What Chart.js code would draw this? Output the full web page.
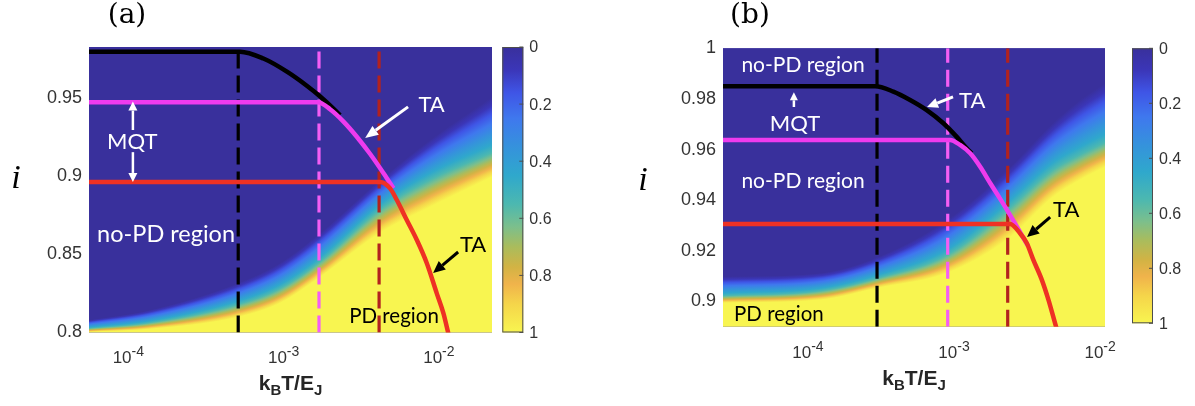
<!DOCTYPE html>
<html>
<head>
<meta charset="utf-8">
<script src="https://cdn.jsdelivr.net/npm/chart.js@4/dist/chart.umd.min.js"></script>
<style>
  html, body { margin: 0; padding: 0; background: #ffffff; }
  #wrap { position: relative; width: 1195px; height: 406px; overflow: hidden; }
  .panel { position: absolute; top: 0; height: 406px; }
</style>
</head>
<body>
<div id="wrap">
  <div class="panel" style="left:0;width:597px"><canvas id="chartA" width="597" height="406"></canvas></div>
  <div class="panel" style="left:597px;width:598px"><canvas id="chartB" width="598" height="406"></canvas></div>
</div>
<script>
// ---------- shared tick values ----------
const xTicks = [1e-4, 1e-3, 1e-2];
const xTickExp = ['-4', '-3', '-2'];
const yTicksA = [0.8, 0.85, 0.9, 0.95];
const yTicksB = [0.9, 0.92, 0.94, 0.96, 0.98, 1];
const cbTicks = [0, 0.2, 0.4, 0.6, 0.8, 1];

// ---------- panel (a): switching curves i(kBT/EJ) ----------
const blackTempA = [5.58e-5, 5.25e-4, 7.41e-4, 1.05e-3, 1.41e-3, 1.72e-3, 1.99e-3, 2.31e-3];
const blackIA    = [0.980, 0.980, 0.9756, 0.9672, 0.9582, 0.9513, 0.9456, 0.9394];
const magTempA   = [5.58e-5, 1.667e-3, 1.99e-3, 2.43e-3, 2.96e-3, 3.61e-3, 4.40e-3, 5.10e-3];
const magIA      = [0.9476, 0.9476, 0.9431, 0.9352, 0.9255, 0.9144, 0.9021, 0.8924];
const redTempA   = [5.58e-5, 4.18e-3, 4.85e-3, 5.36e-3, 6.21e-3, 7.21e-3, 8.36e-3, 9.69e-3, 1.07e-2, 1.15e-2];
const redIA      = [0.8965, 0.8965, 0.8924, 0.8849, 0.8721, 0.8593, 0.8444, 0.8251, 0.8123, 0.7995];
const crossoverA = [5.1e-4, 1.69e-3, 4.12e-3];

// PD probability map (a): i where P starts to rise, reaches 0.5, and reaches 1
const heatTempA = [5.6e-5, 1.38e-4, 5.1e-4, 9.5e-4, 1.72e-3, 4.18e-3, 8.77e-3, 2.2e-2];
const heatHiA   = [0.8080, 0.8144, 0.8317, 0.8446, 0.8638, 0.8978, 0.9234, 0.9510];
const heatMidA  = [0.8029, 0.8067, 0.8189, 0.8292, 0.8465, 0.8804, 0.8997, 0.9170];
const heatLoA   = [0.8003, 0.8022, 0.8099, 0.8189, 0.8356, 0.8638, 0.8804, 0.8997];

// ---------- panel (b) ----------
const blackTempB = [2.62e-5, 2.88e-4, 3.84e-4, 5.0e-4, 6.5e-4, 8.45e-4, 1.04e-3, 1.22e-3, 1.32e-3];
const blackIB    = [0.985, 0.985, 0.9829, 0.9796, 0.9756, 0.9704, 0.9651, 0.9605, 0.9585];
const magTempB   = [2.62e-5, 9.39e-4, 1.10e-3, 1.29e-3, 1.51e-3, 1.77e-3, 2.07e-3, 2.42e-3, 2.83e-3, 3.21e-3];
const magIB      = [0.9638, 0.9638, 0.9618, 0.9585, 0.9532, 0.9467, 0.9405, 0.9341, 0.9274, 0.9219];
const redTempB   = [2.62e-5, 2.42e-3, 2.83e-3, 3.15e-3, 3.49e-3, 3.99e-3, 4.43e-3, 4.92e-3, 5.05e-3];
const redIB      = [0.9306, 0.9306, 0.9269, 0.9230, 0.9164, 0.9085, 0.9006, 0.8913, 0.889];
const crossoverB = [2.97e-4, 9.05e-4, 2.33e-3];

const heatTempB = [2.62e-5, 1.21e-4, 3.0e-4, 8.96e-4, 2.3e-3, 4.76e-3, 7.3e-3, 1.08e-2];
const heatHiB   = [0.9098, 0.9112, 0.9175, 0.9322, 0.9519, 0.9705, 0.9796, 0.9863];
const heatMidB  = [0.9025, 0.9045, 0.9096, 0.9191, 0.9373, 0.9531, 0.9590, 0.9638];
const heatLoB   = [0.8994, 0.9006, 0.9053, 0.9112, 0.9243, 0.9412, 0.9480, 0.9531];

// colour map used for the probability (0 -> 1)
const cmap = [
  [0.00, '#39309c'], [0.08, '#3b36b8'], [0.16, '#3f55e6'], [0.25, '#3f78ee'],
  [0.35, '#3592dc'], [0.45, '#2fa8cc'], [0.55, '#4cb8b0'], [0.63, '#7cbf8c'],
  [0.70, '#aabc5c'], [0.77, '#d2b344'], [0.83, '#f0b34b'], [0.90, '#f5d54a'],
  [1.00, '#f8f550']
];

const SANS = '"Liberation Sans", Arial, sans-serif';
const LABEL = 'Lato, "Open Sans", sans-serif';

// monotone cubic in log10(x)
function smoothCurve(xs, ys) {
  const lx = xs.map(v => Math.log10(v));
  const n = lx.length, d = [], m = new Array(n);
  for (let k = 0; k < n - 1; k++) d.push((ys[k + 1] - ys[k]) / (lx[k + 1] - lx[k]));
  m[0] = d[0]; m[n - 1] = d[n - 2];
  for (let k = 1; k < n - 1; k++) m[k] = (d[k - 1] * d[k] <= 0) ? 0 : (d[k - 1] + d[k]) / 2;
  for (let k = 0; k < n - 1; k++) {
    if (d[k] === 0) { m[k] = 0; m[k + 1] = 0; continue; }
    const a = m[k] / d[k], b = m[k + 1] / d[k], s = a * a + b * b;
    if (s > 9) { const t = 3 / Math.sqrt(s); m[k] = t * a * d[k]; m[k + 1] = t * b * d[k]; }
  }
  return function (x) {
    const v = Math.log10(x);
    if (v <= lx[0]) return ys[0];
    if (v >= lx[n - 1]) return ys[n - 1];
    let k = 0;
    while (k < n - 2 && v > lx[k + 1]) k++;
    const h = lx[k + 1] - lx[k], t = (v - lx[k]) / h;
    const t2 = t * t, t3 = t2 * t;
    return (2 * t3 - 3 * t2 + 1) * ys[k] + (t3 - 2 * t2 + t) * h * m[k] +
           (-2 * t3 + 3 * t2) * ys[k + 1] + (t3 - t2) * h * m[k + 1];
  };
}

function pts(xs, ys) { return xs.map((x, k) => ({ x: x, y: ys[k] })); }

function drawArrow(ctx, x1, y1, x2, y2, color, width, headLen, headW) {
  const ang = Math.atan2(y2 - y1, x2 - x1);
  const bx = x2 - headLen * Math.cos(ang), by = y2 - headLen * Math.sin(ang);
  ctx.save();
  ctx.strokeStyle = color; ctx.fillStyle = color; ctx.lineWidth = width; ctx.lineCap = 'butt';
  ctx.beginPath(); ctx.moveTo(x1, y1); ctx.lineTo(bx, by); ctx.stroke();
  ctx.beginPath();
  ctx.moveTo(x2, y2);
  ctx.lineTo(bx + headW / 2 * Math.sin(ang), by - headW / 2 * Math.cos(ang));
  ctx.lineTo(bx - headW / 2 * Math.sin(ang), by + headW / 2 * Math.cos(ang));
  ctx.closePath(); ctx.fill();
  ctx.restore();
}

// rich text: parts = [{t, font, dy}], centred on cx
function drawRich(ctx, parts, cx, y, color) {
  ctx.save();
  ctx.fillStyle = color; ctx.textBaseline = 'alphabetic'; ctx.textAlign = 'left';
  let w = 0;
  parts.forEach(p => { ctx.font = p.font; p.w = ctx.measureText(p.t).width; w += p.w; });
  let x = cx - w / 2;
  parts.forEach(p => { ctx.font = p.font; ctx.fillText(p.t, x, y + (p.dy || 0)); x += p.w; });
  ctx.restore();
}

function makePanelPlugin(cfg) {
  const hiF = smoothCurve(cfg.heat.t, cfg.heat.hi);
  const midF = smoothCurve(cfg.heat.t, cfg.heat.mid);
  const loF = smoothCurve(cfg.heat.t, cfg.heat.lo);
  return {
    id: 'panel' + cfg.name,
    beforeDatasetsDraw(chart) {
      const { ctx, chartArea: a, scales: { x: xs, y: ys } } = chart;
      ctx.save();
      ctx.fillStyle = cmap[0][1];
      ctx.fillRect(a.left, a.top, a.right - a.left, a.bottom - a.top);
      for (let px = Math.floor(a.left); px < a.right; px++) {
        const xv = xs.getValueForPixel(px + 0.5);
        const yHi = ys.getPixelForValue(hiF(xv));
        const yMid = ys.getPixelForValue(midF(xv));
        const yLo = ys.getPixelForValue(loF(xv));
        const span = Math.max(yLo - yHi, 0.5);
        const g = ctx.createLinearGradient(0, yHi, 0, yHi + span);
        cmap.forEach(([p, c]) => {
          const yy = p <= 0.5 ? yHi + (yMid - yHi) * p / 0.5 : yMid + (yLo - yMid) * (p - 0.5) / 0.5;
          g.addColorStop(Math.min(1, Math.max(0, (yy - yHi) / span)), c);
        });
        ctx.fillStyle = g;
        const w = Math.min(1, a.right - px);
        ctx.fillRect(px, a.top, w, a.bottom - a.top);
      }
      ctx.restore();
    },
    afterDatasetsDraw(chart) {
      const { ctx, scales: { x: xs, y: ys } } = chart;
      cfg.notes.forEach(n => {
        if (n.kind === 'text') {
          ctx.save();
          ctx.font = n.size + 'px ' + LABEL;
          ctx.fillStyle = n.color; ctx.textAlign = 'center'; ctx.textBaseline = 'middle';
          ctx.fillText(n.text, xs.getPixelForValue(n.x), ys.getPixelForValue(n.y));
          ctx.restore();
        } else {
          drawArrow(ctx, xs.getPixelForValue(n.x1), ys.getPixelForValue(n.y1),
                    xs.getPixelForValue(n.x2), ys.getPixelForValue(n.y2),
                    n.color, n.width, n.head, n.headW);
        }
      });
    },
    afterDraw(chart) {
      const { ctx, chartArea: a, scales: { x: xs, y: ys } } = chart;
      ctx.save();
      // y tick labels
      ctx.font = '18px ' + SANS; ctx.fillStyle = '#333333';
      ctx.textAlign = 'right'; ctx.textBaseline = 'middle';
      cfg.yTicks.forEach(v => ctx.fillText(String(v), a.left - 7, ys.getPixelForValue(v)));
      // x tick labels 10^n
      xTicks.forEach((v, k) => {
        drawRich(ctx, [{ t: '10', font: '17px ' + SANS }, { t: xTickExp[k], font: '14px ' + SANS, dy: -7 }],
                 xs.getPixelForValue(v), a.bottom + cfg.xTickDy, '#333333');
      });
      // x axis title kB T / EJ
      drawRich(ctx, [
        { t: 'k', font: 'bold 21px ' + SANS },
        { t: 'B', font: 'bold 15px ' + SANS, dy: 5 },
        { t: 'T/E', font: 'bold 21px ' + SANS },
        { t: 'J', font: 'bold 15px ' + SANS, dy: 5 }
      ], (a.left + a.right) / 2, a.bottom + cfg.xTitleDy, '#262626');
      // y axis title
      ctx.font = 'italic 34px "Liberation Serif", serif'; ctx.fillStyle = '#000';
      ctx.textAlign = 'center'; ctx.textBaseline = 'alphabetic';
      ctx.fillText('i', a.left + cfg.iLabel[0], cfg.iLabel[1]);
      // panel tag
      ctx.font = '28px "DejaVu Serif", serif'; ctx.textBaseline = 'middle';
      ctx.fillText(cfg.tag, a.left + cfg.tagPos[0], cfg.tagPos[1]);
      // colour bar
      const cb = cfg.cbar;
      const cx0 = a.right + cb.gap, cy0 = a.top + cb.dTop, cy1 = a.bottom + cb.dBottom;
      const g = ctx.createLinearGradient(0, cy0, 0, cy1);
      cmap.forEach(([p, c]) => g.addColorStop(p, c));
      ctx.fillStyle = g; ctx.fillRect(cx0, cy0, cb.width, cy1 - cy0);
      ctx.strokeStyle = '#4d4d4d'; ctx.lineWidth = 1;
      ctx.strokeRect(cx0 + 0.5, cy0 + 0.5, cb.width - 1, cy1 - cy0 - 1);
      ctx.font = '16px ' + SANS; ctx.fillStyle = '#333333';
      ctx.textAlign = 'left'; ctx.textBaseline = 'middle';
      cbTicks.forEach(v => {
        const yy = cy0 + (cy1 - cy0) * v;
        ctx.beginPath(); ctx.moveTo(cx0 + cb.width - 4, yy); ctx.lineTo(cx0 + cb.width, yy); ctx.stroke();
        ctx.fillText(String(v), cx0 + cb.width + 6, yy + 1);
      });
      ctx.restore();
    }
  };
}

function curveSet(xs, ys, color, order) {
  return { data: pts(xs, ys), borderColor: color, borderWidth: 4.5, showLine: true,
           pointRadius: 0, cubicInterpolationMode: 'monotone', order: order, fill: false };
}
function dashSet(x, yMin, yMax, color, order) {
  return { data: [{ x: x, y: yMin }, { x: x, y: yMax }], borderColor: color, borderWidth: 3.2,
           borderDash: [17, 7], showLine: true, pointRadius: 0, order: order, fill: false };
}

function buildChart(id, cfg) {
  const datasets = [
    curveSet(cfg.red[0], cfg.red[1], '#ee3124', 1),
    curveSet(cfg.mag[0], cfg.mag[1], '#ee3bee', 2),
    curveSet(cfg.black[0], cfg.black[1], '#000000', 3),
    dashSet(cfg.cross[0], cfg.yMin, cfg.yMax, '#000000', 6),
    dashSet(cfg.cross[1], cfg.yMin, cfg.yMax, '#f45ef4', 5),
    dashSet(cfg.cross[2], cfg.yMin, cfg.yMax, '#b2221e', 4)
  ];
  return new Chart(document.getElementById(id), {
    type: 'scatter',
    data: { datasets },
    options: {
      responsive: false, animation: false, events: [],
      layout: { padding: cfg.pad },
      plugins: { legend: { display: false }, tooltip: { enabled: false } },
      scales: {
        x: { type: 'logarithmic', min: cfg.xMin, max: cfg.xMax, display: false },
        y: { type: 'linear', min: cfg.yMin, max: cfg.yMax, display: false }
      }
    },
    plugins: [makePanelPlugin(cfg)]
  });
}

buildChart('chartA', {
  name: 'A', tag: '(a)', tagPos: [38, 16], iLabel: [-73, 188],
  pad: { left: 89, right: 105, top: 47, bottom: 73.5 },
  xMin: 5.58e-5, xMax: 0.02198, yMin: 0.8, yMax: 0.983,
  yTicks: yTicksA, xTickDy: 30.5, xTitleDy: 57.5,
  black: [blackTempA, blackIA], mag: [magTempA, magIA], red: [redTempA, redIA], cross: crossoverA,
  heat: { t: heatTempA, hi: heatHiA, mid: heatMidA, lo: heatLoA },
  cbar: { gap: 10.3, width: 21, dTop: 0, dBottom: 0 },
  notes: [
    { kind: 'text', text: 'TA', x: 8.97e-3, y: 0.9462, color: '#ffffff', size: 22 },
    { kind: 'arrow', x1: 6.33e-3, y1: 0.9446, x2: 3.35e-3, y2: 0.9247, color: '#ffffff', width: 3, head: 13, headW: 11 },
    { kind: 'text', text: 'TA', x: 1.66e-2, y: 0.8561, color: '#000000', size: 22 },
    { kind: 'arrow', x1: 1.33e-2, y1: 0.8516, x2: 9.18e-3, y2: 0.8381, color: '#000000', width: 3, head: 12, headW: 11 },
    { kind: 'text', text: 'PD region', x: 5.14e-3, y: 0.8106, color: '#000000', size: 20.5 },
    { kind: 'text', text: 'MQT', x: 1.06e-4, y: 0.9221, color: '#ffffff', size: 22 },
    { kind: 'arrow', x1: 1.07e-4, y1: 0.9298, x2: 1.07e-4, y2: 0.948, color: '#ffffff', width: 2.5, head: 9, headW: 9 },
    { kind: 'arrow', x1: 1.07e-4, y1: 0.9156, x2: 1.07e-4, y2: 0.8965, color: '#ffffff', width: 2.5, head: 9, headW: 9 },
    { kind: 'text', text: 'no-PD region', x: 1.75e-4, y: 0.8631, color: '#ffffff', size: 23.5 }
  ]
});

buildChart('chartB', {
  name: 'B', tag: '(b)', tagPos: [27, 16], iLabel: [-80, 190],
  pad: { left: 126, right: 90, top: 48.3, bottom: 79.3 },
  xMin: 2.62e-5, xMax: 0.0108, yMin: 0.89, yMax: 1.0,
  yTicks: yTicksB, xTickDy: 31, xTitleDy: 58,
  black: [blackTempB, blackIB], mag: [magTempB, magIB], red: [redTempB, redIB], cross: crossoverB,
  heat: { t: heatTempB, hi: heatHiB, mid: heatMidB, lo: heatLoB },
  cbar: { gap: 27, width: 21, dTop: 0, dBottom: -3.4 },
  notes: [
    { kind: 'text', text: 'no-PD region', x: 9.25e-5, y: 0.9934, color: '#ffffff', size: 21 },
    { kind: 'arrow', x1: 8.01e-5, y1: 0.9768, x2: 8.01e-5, y2: 0.9826, color: '#ffffff', width: 2.5, head: 8, headW: 8 },
    { kind: 'text', text: 'MQT', x: 8.15e-5, y: 0.9701, color: '#ffffff', size: 22 },
    { kind: 'text', text: 'no-PD region', x: 9.25e-5, y: 0.9476, color: '#ffffff', size: 21 },
    { kind: 'text', text: 'TA', x: 1.33e-3, y: 0.9792, color: '#ffffff', size: 22 },
    { kind: 'arrow', x1: 9.84e-4, y1: 0.9808, x2: 6.53e-4, y2: 0.9768, color: '#ffffff', width: 3, head: 11, headW: 10 },
    { kind: 'text', text: 'TA', x: 5.85e-3, y: 0.9361, color: '#000000', size: 22 },
    { kind: 'arrow', x1: 4.55e-3, y1: 0.9333, x2: 3.16e-3, y2: 0.9254, color: '#000000', width: 3, head: 12, headW: 11 },
    { kind: 'text', text: 'PD region', x: 6.32e-5, y: 0.8950, color: '#000000', size: 20.5 }
  ]
});
</script>
</body>
</html>
